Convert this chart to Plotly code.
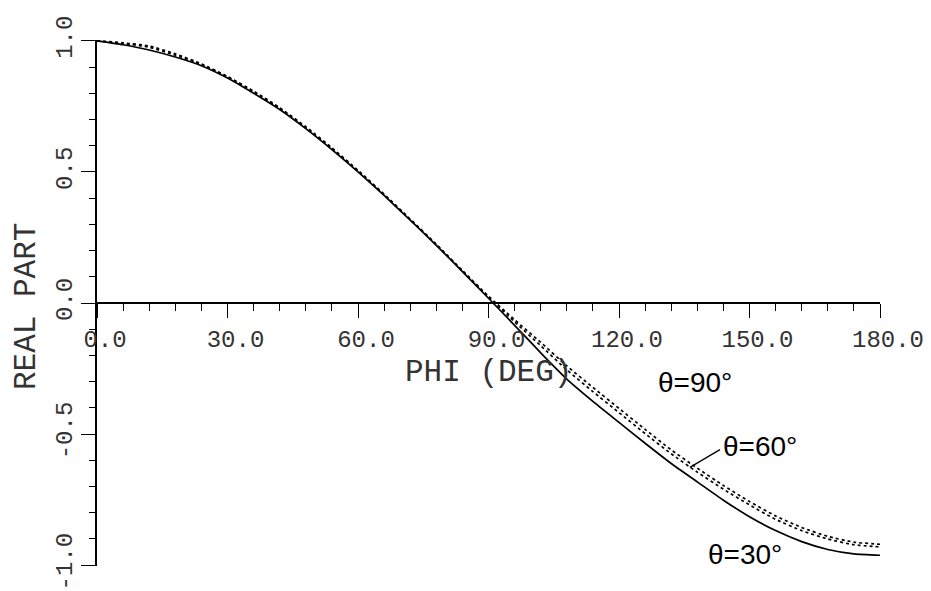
import plotly.graph_objects as go

# ---- data ----
phi = [0, 6, 12, 18, 24, 30, 36, 42, 48, 54, 60, 66, 72, 78, 84, 90,
       96, 102, 108, 114, 120, 126, 132, 138, 144, 150, 156, 162, 168, 174, 180]

theta90 = [1.000, 0.992, 0.980, 0.950, 0.912, 0.864, 0.808, 0.745, 0.672, 0.592,
           0.506, 0.415, 0.320, 0.224, 0.124, 0.026, -0.064, -0.150, -0.240, -0.322,
           -0.402, -0.482, -0.560, -0.630, -0.696, -0.757, -0.812, -0.856, -0.890,
           -0.912, -0.920]

theta60 = [1.000, 0.990, 0.975, 0.945, 0.910, 0.862, 0.805, 0.742, 0.668, 0.588,
           0.503, 0.412, 0.318, 0.222, 0.122, 0.022, -0.072, -0.163, -0.255, -0.338,
           -0.418, -0.498, -0.575, -0.645, -0.710, -0.770, -0.825, -0.868, -0.900,
           -0.922, -0.930]

theta30 = [1.000, 0.985, 0.965, 0.938, 0.905, 0.858, 0.800, 0.738, 0.665, 0.585,
           0.500, 0.410, 0.316, 0.220, 0.120, 0.018, -0.085, -0.190, -0.290, -0.375,
           -0.455, -0.535, -0.612, -0.682, -0.752, -0.815, -0.868, -0.910, -0.940,
           -0.957, -0.962]

x_ticks = [0, 30, 60, 90, 120, 150, 180]
x_tick_text = ["0.0", "30.0", "60.0", "90.0", "120.0", "150.0", "180.0"]
y_ticks = [-1.0, -0.5, 0.0, 0.5, 1.0]
y_tick_text = ["-1.0", "-0.5", "0.0", "0.5", "1.0"]

series = [("θ=90°", theta90, "dot"), ("θ=60°", theta60, "dot"), ("θ=30°", theta30, "solid")]

fig = go.Figure()
for name, vals, dash in series:
    fig.add_trace(go.Scatter(x=phi, y=vals, mode="lines", name=name,
                             line=dict(color="black", width=1.7, dash=dash, shape="spline", smoothing=0.6)))

tickfont = dict(family="Liberation Mono", size=24, color="#333333")

fig.update_layout(
    width=931, height=591,
    margin=dict(l=97, r=51, t=40, b=25),
    paper_bgcolor="white", plot_bgcolor="white",
    showlegend=False,
    xaxis=dict(range=[0, 180], anchor="free", position=0.5, automargin=False,
               showline=True, linecolor="black", linewidth=1.5,
               showgrid=False, zeroline=False,
               tickvals=x_ticks, ticktext=x_tick_text,
               ticks="outside", ticklen=14, tickwidth=1.3, tickcolor="black",
               tickfont=tickfont, ticklabelshift=8,
               minor=dict(dtick=6, ticks="outside", ticklen=7, tickwidth=1, tickcolor="black", showgrid=False)),
    yaxis=dict(range=[-1.003, 1.003], automargin=False,
               showline=True, linecolor="black", linewidth=1.5,
               showgrid=False, zeroline=False,
               tickvals=y_ticks, ticktext=y_tick_text,
               ticks="outside", ticklen=14, tickwidth=1.3, tickcolor="black",
               tickfont=tickfont, tickangle=-90,
               minor=dict(dtick=0.1, ticks="outside", ticklen=6, tickwidth=1, tickcolor="black", showgrid=False)),
)

titlefont = dict(family="Liberation Mono", size=31, color="#333333")
fig.add_annotation(text="PHI (DEG)", xref="paper", yref="paper", x=0.5, y=0.5,
                   xanchor="center", yanchor="middle",
                   yshift=-69, showarrow=False, font=titlefont)
fig.add_annotation(text="REAL PART", xref="paper", yref="paper", x=0, y=0.5,
                   xanchor="center", yanchor="middle",
                   xshift=-71, yshift=-4, textangle=-90, showarrow=False, font=titlefont)

labfont = dict(family="Liberation Sans", size=28, color="black")
fig.add_annotation(text="θ=90°", x=137.5, y=-0.305, showarrow=False, font=labfont)
fig.add_annotation(text="θ=60°", x=152.4, y=-0.548, showarrow=False, font=labfont)
fig.add_annotation(text="θ=30°", x=149.0, yref="paper", y=-0.0114, showarrow=False, font=labfont)
fig.add_shape(type="line", x0=136.3, y0=-0.627, x1=143.2, y1=-0.559,
              line=dict(color="black", width=1.3))

fig.write_html("out.html")
